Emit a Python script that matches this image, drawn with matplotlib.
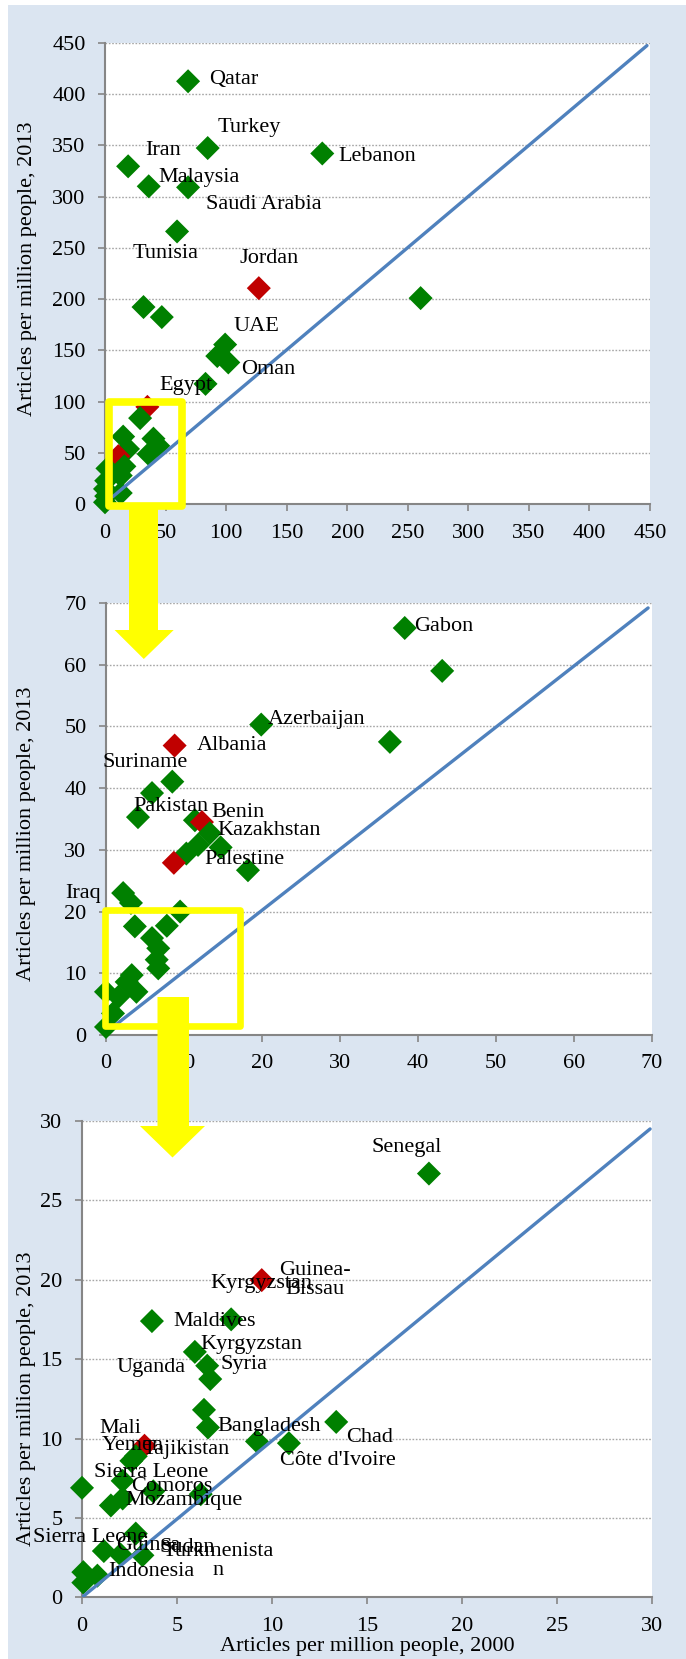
import numpy as np
import matplotlib
matplotlib.use('Agg')
import matplotlib.pyplot as plt
from matplotlib.patches import Rectangle, Polygon

# ---- data: articles per million people, 2000 (x) vs 2013 (y) ----
# panel 1 (0-450)
p1_x = [68.6, 84.8, 179.4, 19.1, 36.1, 68.6, 59.5, 127.0, 260.6, 31.8, 46.9,
        99.2, 92.7, 101.8, 83.0, 35.0, 29.0, 15.0, 40.0, 44.0, 36.0, 19.0,
        11.0, 16.0, 13.0, 2.0, 1.0, 13.0, 1.0, 0.0, 0.0]
p1_y = [412.4, 347.3, 342.0, 329.5, 310.0, 309.0, 266.0, 210.7, 201.0, 192.3, 182.5,
        155.7, 144.5, 138.3, 117.4, 95.0, 84.0, 66.0, 64.0, 57.0, 49.0, 54.0,
        47.0, 37.0, 28.0, 35.0, 23.0, 11.0, 8.0, 2.0, 15.0]
p1_red = [0, 0, 0, 0, 0, 0, 0, 1, 0, 0, 0,
          0, 0, 0, 0, 1, 0, 0, 0, 0, 0, 0,
          1, 0, 0, 0, 0, 0, 0, 0, 0]
p1_names = ['Qatar', 'Turkey', 'Lebanon', 'Iran', 'Malaysia', 'Saudi Arabia',
            'Tunisia', 'Jordan', 'UAE', 'Oman', 'Egypt']
p1_lab_x = [85.9, 92.7, 193.0, 33.6, 44.4, 83.7, 22.4, 110.8, 105.7, 112.6, 45.1]
p1_lab_y = [414.5, 367.5, 338.6, 344.5, 318.7, 292.6, 244.5, 239.3, 173.1, 131.3, 115.6]

# panel 2 (0-70)
p2_x = [38.3, 43.1, 19.9, 36.4, 8.8, 8.5, 5.9, 4.1, 11.4, 12.3, 13.3, 14.7, 11.8,
        10.3, 8.7, 18.2, 2.2, 3.2, 9.5, 3.7, 7.8, 5.9, 6.7, 6.5, 6.7, 3.3, 2.65,
        3.9, 0.0, 1.6, 0.9, 0.0]
p2_y = [65.95, 59.0, 50.3, 47.5, 46.9, 41.05, 39.2, 35.3, 34.8, 34.5, 32.7, 30.4, 30.8,
        29.4, 27.9, 26.7, 23.0, 21.4, 20.0, 17.6, 17.7, 15.7, 14.05, 12.2, 10.8, 9.7, 8.6,
        7.0, 7.0, 6.2, 3.5, 1.3]
p2_red = [0, 0, 0, 0, 1, 0, 0, 0, 0, 1, 0, 0, 0,
          0, 1, 0, 0, 0, 0, 0, 0, 0, 0, 0, 0, 0, 0,
          0, 0, 0, 0, 0]
p2_names = ['Gabon', 'Azerbaijan', 'Albania', 'Suriname', 'Pakistan', 'Benin',
            'Kazakhstan', 'Palestine', 'Iraq']
p2_lab_x = [39.5, 20.7, 11.6, -0.45, 3.5, 13.5, 14.3, 12.6, -5.2]
p2_lab_y = [66.2, 51.2, 46.9, 44.1, 37.0, 36.1, 33.1, 28.4, 22.9]

# panel 3 (0-30)
p3_x = [18.26, 9.46, 3.68, 7.85, 5.94, 6.59, 6.75, 6.42, 6.63, 13.38, 9.21, 10.89,
        3.29, 2.83, 2.6, 0.0, 2.14, 3.75, 6.25, 2.14, 1.52, 2.83, 1.15, 2.03, 3.18,
        0.07, 0.81, 0.07]
p3_y = [26.69, 19.98, 17.40, 17.51, 15.46, 14.59, 13.75, 11.81, 10.70, 11.05, 9.82, 9.71,
        9.55, 8.89, 8.6, 6.90, 7.34, 6.68, 6.5, 6.23, 5.79, 4.02, 2.92, 2.70, 2.65,
        1.59, 1.37, 0.93]
p3_red = [0, 1, 0, 0, 0, 0, 0, 0, 0, 0, 0, 0,
          1, 0, 0, 0, 0, 0, 0, 0, 0, 0, 0, 0, 0,
          0, 0, 0]
p3_names = ['Senegal', 'Kyrgyzstan', 'Maldives', 'Kyrgyzstan', 'Syria', 'Uganda',
            'Bangladesh', 'Chad', "Côte d'Ivoire", 'Mali', 'Yemen', 'Tajikistan',
            'Sierra Leone', 'Comoros', 'Mozambique', 'Sierra Leone', 'Guinea', 'Sudan',
            'Indonesia']
p3_lab_x = [15.22, 6.75, 4.79, 6.22, 7.28, 1.84, 7.14, 13.88, 10.43, 0.94, 1.04, 3.18,
            0.64, 2.6, 2.3, -2.58, 1.8, 4.1, 1.4]
p3_lab_y = [28.3, 19.77, 17.36, 15.92, 14.68, 14.46, 10.77, 10.1, 8.6, 10.61, 9.55, 9.33,
            7.89, 7.01, 6.12, 3.8, 3.25, 3.14, 1.64]
p3_wrapped = ['Guinea-\nBissau', 'Turkmenista\nn']
p3_wrap_x = [12.27, 7.15]
p3_wrap_y = [20.01, 2.3]

# diagonal reference lines
line_x = [[6.4, 447.5], [1.1, 69.5], [0.0, 29.9]]
line_y = [[7.4, 447.2], [1.5, 69.2], [0.0, 29.5]]

GREEN = '#008000'
RED = '#c00000'
LINE = '#4f81bd'
BG = '#dbe5f1'
YEL = '#ffff00'
GRID = '#a6a6a6'
AXC = '#868686'

plt.rcParams['font.family'] = ['Liberation Serif', 'DejaVu Serif']
plt.rcParams['font.size'] = 16

W, H = 686, 1659
fig = plt.figure(figsize=(W / 100, H / 100), dpi=100)
fig.patch.set_facecolor('white')
fig.add_artist(Rectangle((8 / W, 0), 1 - 8 / W, 1 - 5 / H, transform=fig.transFigure,
                         facecolor=BG, edgecolor='none', zorder=-10))


def px(x, y):
    return (x / W, 1 - y / H)


def style(ax, lim, step):
    ax.set_xlim(0, lim)
    ax.set_ylim(0, lim)
    ticks = np.arange(0, lim + step / 2, step)
    ax.set_xticks(ticks)
    ax.set_yticks(ticks)
    ax.set_facecolor('white')
    for s in ['top', 'right']:
        ax.spines[s].set_visible(False)
    for s in ['left', 'bottom']:
        ax.spines[s].set_color(AXC)
        ax.spines[s].set_linewidth(1.5)
    ax.tick_params(direction='out', length=5, width=1.2, color=AXC, labelsize=16, pad=9)
    ax.yaxis.grid(True, color=GRID, linestyle=(0, (1.2, 1.2)), lw=1)
    ax.set_axisbelow(True)


def panel(ax, xs, ys, red, lx, ly):
    cols = [RED if r else GREEN for r in red]
    ax.scatter(xs, ys, c=cols, marker='D', s=150, linewidths=0, zorder=3, clip_on=False)
    ax.plot(lx, ly, color=LINE, lw=2.4, solid_capstyle='round', zorder=4)


def labels(ax, names, xs, ys):
    for n, x, y in zip(names, xs, ys):
        ax.text(x, y, n, ha='left', va='center', fontsize=16, zorder=6)


ax1 = fig.add_axes([105 / W, 1 - 504.3 / H, 545 / W, 461.6 / H])
style(ax1, 450, 50)
panel(ax1, p1_x, p1_y, p1_red, line_x[0], line_y[0])
labels(ax1, p1_names, p1_lab_x, p1_lab_y)
ax1.set_ylabel('Articles per million people, 2013', fontsize=16, va='center')
ax1.yaxis.set_label_coords(-0.143, 0.51)

ax2 = fig.add_axes([106 / W, 1 - 1035 / H, 546 / W, 432 / H])
style(ax2, 70, 10)
panel(ax2, p2_x, p2_y, p2_red, line_x[1], line_y[1])
labels(ax2, p2_names, p2_lab_x, p2_lab_y)
ax2.set_ylabel('Articles per million people, 2013', fontsize=16, va='center')
ax2.yaxis.set_label_coords(-0.1447, 0.465)

ax3 = fig.add_axes([82 / W, 1 - 1597.4 / H, 570 / W, 476.4 / H])
style(ax3, 30, 5)
panel(ax3, p3_x, p3_y, p3_red, line_x[2], line_y[2])
labels(ax3, p3_names, p3_lab_x, p3_lab_y)
for t, x, y in zip(p3_wrapped, p3_wrap_x, p3_wrap_y):
    ax3.text(x, y, t, ha='center', va='center', fontsize=16, linespacing=1.0, zorder=6)
ax3.set_ylabel('Articles per million people, 2013', fontsize=16, va='center')
ax3.yaxis.set_label_coords(-0.0965, 0.416)
ax3.set_xlabel('Articles per million people, 2000', fontsize=16, labelpad=1)

# yellow zoom boxes and arrows (figure pixel coordinates)
for (x0, y0, x1, y1, lw) in [(108.8, 402, 182.2, 506, 5.5), (105.3, 910.3, 240.3, 1026.3, 4.8)]:
    fig.add_artist(Rectangle(px(x0, y1), (x1 - x0) / W, (y1 - y0) / H,
                             transform=fig.transFigure, fill=False, edgecolor=YEL,
                             lw=lw, joinstyle='round', zorder=10))

arrows = [
    [(129, 506), (158, 506), (158, 630), (173.7, 630), (143.8, 659), (114.6, 630), (129, 630)],
    [(157.5, 997), (189, 997), (189, 1126), (205, 1126), (172.5, 1157.5), (140, 1126), (157.5, 1126)],
]
for pts in arrows:
    fig.add_artist(Polygon([px(x, y) for x, y in pts], closed=True, transform=fig.transFigure,
                           facecolor=YEL, edgecolor='none', zorder=10))

fig.savefig('out.png', dpi=100)
